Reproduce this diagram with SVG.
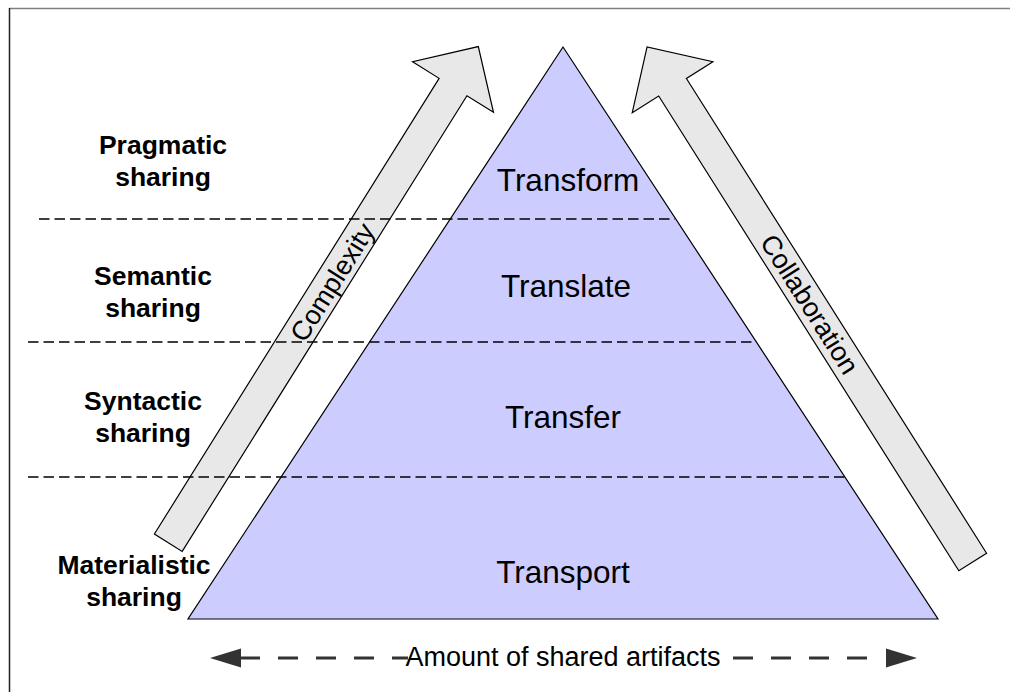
<svg xmlns="http://www.w3.org/2000/svg" width="1010" height="692" viewBox="0 0 1010 692">
  <style>
    .layer { font-family: "Liberation Sans", Arial, sans-serif; font-weight: bold; font-size: 26.5px; fill: #000; text-anchor: middle; }
    .tier { font-family: "Liberation Sans", Arial, sans-serif; font-size: 31.5px; fill: #000; text-anchor: middle; }
    .axis { font-family: "Liberation Sans", Arial, sans-serif; font-size: 27px; fill: #000; text-anchor: middle; }
    .pyramid { fill: #ccccff; stroke: #000; stroke-width: 1.2; }
    .block-arrow { fill: #e8e8e8; stroke: #000; stroke-width: 1.2; }
    .divider { stroke: #000; stroke-width: 1.6; stroke-dasharray: 10.5 5; fill: none; }
    .amount-line { stroke: #333; stroke-width: 3; stroke-dasharray: 20 18; fill: none; }
    .amount-head { fill: #333; }
  </style>
  <defs>
    <!-- block arrow pointing along +x, tail centred on the origin -->
    <polygon id="up-arrow-609" class="block-arrow" points="0,-16.4 561.7,-16.4 561.7,-47.7 609.4,0 561.7,47.7 561.7,16.4 0,16.4"/>
    <polygon id="up-arrow-585" class="block-arrow" points="0,-16.4 537.3,-16.4 537.3,-47.7 585,0 537.3,47.7 537.3,16.4 0,16.4"/>
  </defs>

  <rect width="1010" height="692" fill="#fff"/>
  <!-- frame -->
  <line x1="9" y1="8.5" x2="1010" y2="8.5" stroke="#808080" stroke-width="1.5"/>
  <line x1="9.5" y1="8" x2="9.5" y2="692" stroke="#222" stroke-width="1.5"/>

  <g id="pyramid">
    <polygon class="pyramid" points="563,47 938,619 188,619"/>
  </g>

  <g id="complexity">
    <use href="#up-arrow-585" transform="translate(168.3,542.7) rotate(-58)"/>
    <text class="axis" transform="translate(332,282) rotate(-58)" dy="0.36em">Complexity</text>
  </g>

  <g id="collaboration">
    <use href="#up-arrow-609" transform="translate(972.7,562) rotate(-122.3)"/>
    <text class="axis" transform="translate(810,304) rotate(57.7)" dy="0.36em">Collaboration</text>
  </g>

  <g id="dividers">
    <line class="divider" x1="39" y1="219" x2="675" y2="219"/>
    <line class="divider" x1="28" y1="342" x2="755" y2="342"/>
    <line class="divider" x1="28" y1="477" x2="845" y2="477"/>
  </g>

  <g id="layer-pragmatic"><text class="layer" x="163" y="154">Pragmatic<tspan x="163" dy="32">sharing</tspan></text></g>
  <g id="layer-semantic"><text class="layer" x="153" y="285">Semantic<tspan x="153" dy="32">sharing</tspan></text></g>
  <g id="layer-syntactic"><text class="layer" x="143" y="410">Syntactic<tspan x="143" dy="32">sharing</tspan></text></g>
  <g id="layer-materialistic"><text class="layer" x="134" y="574">Materialistic<tspan x="134" dy="32">sharing</tspan></text></g>

  <g id="tier-transform"><text class="tier" x="568" y="191">Transform</text></g>
  <g id="tier-translate"><text class="tier" x="566" y="297">Translate</text></g>
  <g id="tier-transfer"><text class="tier" x="563" y="428">Transfer</text></g>
  <g id="tier-transport"><text class="tier" x="563" y="583">Transport</text></g>

  <g id="connectors">
    <line class="amount-line" x1="240" y1="658" x2="408" y2="658"/>
    <line class="amount-line" x1="733" y1="658" x2="870" y2="658"/>
    <polygon class="amount-head" points="210,658 241,648.5 241,667.5"/>
    <polygon class="amount-head" points="917,658 886,648.5 886,667.5"/>
    <text class="axis" x="563" y="666" font-size="25.6">Amount of shared artifacts</text>
  </g>
</svg>
